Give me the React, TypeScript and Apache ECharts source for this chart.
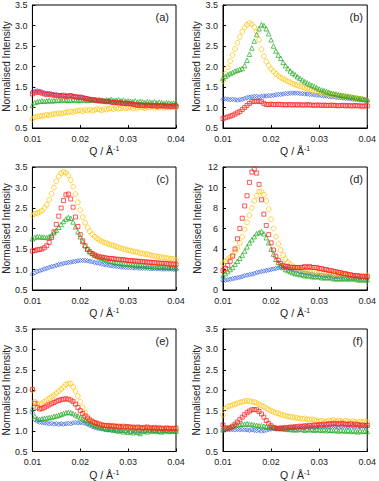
import React, { useEffect, useRef } from "react";
import * as echarts from "echarts";

// Scattering vector Q (Å^-1)
const Q = [
  0.0100, 0.0105, 0.0110, 0.0115, 0.0120, 0.0125, 0.0130, 0.0135, 0.0140, 0.0145,
  0.0150, 0.0155, 0.0160, 0.0165, 0.0170, 0.0175, 0.0180, 0.0185, 0.0190, 0.0195,
  0.0200, 0.0205, 0.0210, 0.0215, 0.0220, 0.0225, 0.0230, 0.0235, 0.0240, 0.0245,
  0.0250, 0.0255, 0.0260, 0.0265, 0.0270, 0.0275, 0.0280, 0.0285, 0.0290, 0.0295,
  0.0300, 0.0305, 0.0310, 0.0315, 0.0320, 0.0325, 0.0330, 0.0335, 0.0340, 0.0345,
  0.0350, 0.0355, 0.0360, 0.0365, 0.0370, 0.0375, 0.0380, 0.0385, 0.0390, 0.0395,
  0.0400,
];

const panelLabels = ["(a)", "(b)", "(c)", "(d)", "(e)", "(f)"];
const xTicks = [0.01, 0.02, 0.03, 0.04];

// Panel (a)
const aYellow = [
  0.72, 0.76, 0.78, 0.79, 0.80, 0.80, 0.82, 0.81, 0.83, 0.84,
  0.85, 0.86, 0.85, 0.87, 0.88, 0.89, 0.90, 0.89, 0.91, 0.92,
  0.93, 0.91, 0.94, 0.93, 0.95, 0.92, 0.94, 0.96, 0.95, 0.93,
  0.96, 0.95, 0.97, 0.98, 0.96, 0.99, 0.97, 0.98, 1.00, 0.98,
  0.99, 1.01, 0.98, 1.00, 0.99, 1.01, 1.00, 0.98, 1.01, 1.00,
  1.02, 0.99, 1.01, 1.00, 1.02, 0.99, 1.01, 1.00, 1.02, 1.01,
  1.00,
];
const aRed = [
  1.33, 1.36, 1.38, 1.37, 1.35, 1.33, 1.32, 1.33, 1.31, 1.30,
  1.30, 1.29, 1.28, 1.30, 1.27, 1.28, 1.29, 1.27, 1.26, 1.25,
  1.25, 1.24, 1.22, 1.21, 1.20, 1.19, 1.18, 1.18, 1.16, 1.16,
  1.15, 1.14, 1.15, 1.13, 1.12, 1.13, 1.11, 1.12, 1.10, 1.10,
  1.10, 1.09, 1.08, 1.07, 1.05, 1.06, 1.05, 1.04, 1.06, 1.05,
  1.04, 1.05, 1.03, 1.04, 1.05, 1.03, 1.04, 1.03, 1.02, 1.04,
  1.03,
];
const aBlue = [
  1.38, 1.40, 1.41, 1.40, 1.38, 1.36, 1.35, 1.34, 1.33, 1.32,
  1.31, 1.30, 1.30, 1.29, 1.29, 1.28, 1.30, 1.27, 1.27, 1.26,
  1.26, 1.24, 1.23, 1.22, 1.20, 1.19, 1.18, 1.17, 1.16, 1.16,
  1.15, 1.14, 1.14, 1.13, 1.12, 1.12, 1.11, 1.10, 1.10, 1.11,
  1.10, 1.09, 1.08, 1.08, 1.07, 1.08, 1.07, 1.06, 1.07, 1.06,
  1.06, 1.05, 1.07, 1.05, 1.06, 1.05, 1.06, 1.04, 1.05, 1.05,
  1.05,
];
const aGreen = [
  1.05, 1.12, 1.14, 1.15, 1.16, 1.15, 1.16, 1.17, 1.16, 1.17,
  1.17, 1.18, 1.17, 1.19, 1.18, 1.17, 1.18, 1.19, 1.18, 1.17,
  1.18, 1.19, 1.18, 1.17, 1.19, 1.18, 1.20, 1.17, 1.19, 1.18,
  1.17, 1.19, 1.18, 1.20, 1.17, 1.18, 1.19, 1.16, 1.18, 1.15,
  1.16, 1.15, 1.14, 1.16, 1.13, 1.15, 1.14, 1.12, 1.14, 1.13,
  1.12, 1.14, 1.11, 1.13, 1.12, 1.10, 1.12, 1.11, 1.10, 1.11,
  1.10,
];

// Panel (b)
const bYellow = [
  1.65, 1.82, 1.98, 2.13, 2.28, 2.43, 2.58, 2.72, 2.85, 2.95,
  3.02, 3.06, 3.03, 2.96, 2.85, 2.65, 2.42, 2.25, 2.12, 2.02,
  1.94, 1.88, 1.82, 1.77, 1.73, 1.70, 1.67, 1.64, 1.61, 1.58,
  1.56, 1.54, 1.52, 1.50, 1.48, 1.46, 1.44, 1.42, 1.40, 1.39,
  1.37, 1.36, 1.35, 1.34, 1.33, 1.32, 1.31, 1.30, 1.29, 1.28,
  1.28, 1.27, 1.26, 1.25, 1.24, 1.23, 1.22, 1.21, 1.20, 1.19,
  1.16,
];
const bRed = [
  0.73, 0.75, 0.77, 0.79, 0.81, 0.84, 0.87, 0.90, 0.95, 1.00,
  1.05, 1.10, 1.14, 1.15, 1.15, 1.15, 1.14, 1.10, 1.07, 1.07,
  1.08, 1.07, 1.07, 1.08, 1.07, 1.07, 1.06, 1.07, 1.07, 1.06,
  1.07, 1.06, 1.07, 1.06, 1.06, 1.07, 1.06, 1.06, 1.05, 1.06,
  1.06, 1.05, 1.06, 1.05, 1.05, 1.06, 1.05, 1.05, 1.04, 1.05,
  1.05, 1.04, 1.05, 1.04, 1.04, 1.05, 1.04, 1.04, 1.03, 1.04,
  1.04,
];
const bGreen = [
  1.72, 1.76, 1.80, 1.83, 1.86, 1.89, 1.91, 1.93, 1.95, 2.02,
  2.15, 2.30, 2.45, 2.62, 2.78, 2.92, 3.02, 3.00, 2.92, 2.80,
  2.65, 2.50, 2.38, 2.28, 2.20, 2.10, 2.02, 1.95, 1.89, 1.84,
  1.80, 1.75, 1.71, 1.67, 1.63, 1.60, 1.57, 1.54, 1.51, 1.48,
  1.45, 1.43, 1.41, 1.39, 1.37, 1.35, 1.34, 1.33, 1.31, 1.30,
  1.29, 1.28, 1.27, 1.26, 1.25, 1.24, 1.23, 1.22, 1.21, 1.20,
  1.19,
];
const bBlue = [
  1.20, 1.21, 1.20, 1.19, 1.20, 1.19, 1.18, 1.19, 1.20, 1.22,
  1.24, 1.25, 1.26, 1.27, 1.27, 1.26, 1.27, 1.28, 1.28, 1.29,
  1.29, 1.30, 1.31, 1.32, 1.32, 1.33, 1.34, 1.34, 1.35, 1.35,
  1.35, 1.35, 1.34, 1.34, 1.33, 1.33, 1.32, 1.32, 1.31, 1.30,
  1.30, 1.29, 1.28, 1.28, 1.27, 1.26, 1.26, 1.25, 1.24, 1.24,
  1.23, 1.22, 1.22, 1.21, 1.20, 1.20, 1.19, 1.18, 1.18, 1.17,
  1.17,
];

// Panel (c)
const cYellow = [
  2.32, 2.36, 2.38, 2.40, 2.43, 2.50, 2.58, 2.70, 2.85, 3.00,
  3.15, 3.27, 3.35, 3.38, 3.36, 3.30, 3.18, 3.02, 2.84, 2.64,
  2.45, 2.28, 2.14, 2.02, 1.93, 1.86, 1.80, 1.76, 1.72, 1.69,
  1.66, 1.64, 1.62, 1.60, 1.58, 1.56, 1.54, 1.52, 1.50, 1.49,
  1.47, 1.46, 1.44, 1.43, 1.42, 1.40, 1.39, 1.38, 1.37, 1.36,
  1.34, 1.33, 1.32, 1.31, 1.30, 1.29, 1.28, 1.27, 1.26, 1.25,
  1.23,
];
const cRed = [
  1.45, 1.46, 1.48, 1.49, 1.50, 1.53, 1.58, 1.66, 1.78, 1.92,
  2.10, 2.30, 2.50, 2.68, 2.82, 2.84, 2.72, 2.52, 2.28, 2.05,
  1.85, 1.70, 1.58, 1.49, 1.43, 1.39, 1.36, 1.33, 1.31, 1.30,
  1.29, 1.28, 1.27, 1.27, 1.26, 1.25, 1.25, 1.24, 1.24, 1.23,
  1.22, 1.22, 1.21, 1.21, 1.20, 1.20, 1.19, 1.19, 1.18, 1.18,
  1.17, 1.17, 1.16, 1.16, 1.15, 1.15, 1.14, 1.14, 1.13, 1.13,
  1.12,
];
const cGreen = [
  1.75, 1.78, 1.80, 1.80, 1.79, 1.79, 1.78, 1.80, 1.84, 1.90,
  1.96, 2.03, 2.10, 2.17, 2.23, 2.27, 2.25, 2.16, 2.04, 1.92,
  1.80, 1.68, 1.58, 1.50, 1.44, 1.39, 1.35, 1.32, 1.29, 1.27,
  1.25, 1.23, 1.21, 1.20, 1.18, 1.17, 1.16, 1.15, 1.14, 1.14,
  1.13, 1.12, 1.12, 1.11, 1.10, 1.10, 1.09, 1.09, 1.08, 1.08,
  1.07, 1.07, 1.07, 1.06, 1.06, 1.06, 1.05, 1.05, 1.05, 1.05,
  1.04,
];
const cBlue = [
  0.88, 0.92, 0.95, 0.97, 0.99, 1.01, 1.03, 1.05, 1.07, 1.08,
  1.10, 1.12, 1.13, 1.15, 1.16, 1.17, 1.18, 1.19, 1.20, 1.21,
  1.22, 1.22, 1.22, 1.21, 1.20, 1.19, 1.17, 1.16, 1.15, 1.13,
  1.12, 1.11, 1.10, 1.09, 1.08, 1.08, 1.07, 1.06, 1.06, 1.05,
  1.05, 1.05, 1.04, 1.04, 1.04, 1.03, 1.03, 1.03, 1.03, 1.02,
  1.02, 1.02, 1.02, 1.02, 1.01, 1.01, 1.01, 1.01, 1.01, 1.00,
  1.00,
];

// Panel (d)
const dRed = [
  1.9, 2.1, 2.4, 2.8, 3.3, 4.0, 5.0, 6.0, 7.0, 8.2,
  9.2, 10.5, 11.5, 11.8, 11.4, 10.3, 8.8, 7.4, 6.3, 5.4,
  4.6, 3.9, 3.3, 2.9, 2.6, 2.4, 2.3, 2.3, 2.2, 2.2,
  2.2, 2.2, 2.2, 2.2, 2.3, 2.2, 2.3, 2.2, 2.2, 2.2,
  2.1, 2.1, 2.0, 2.0, 1.9, 1.9, 1.8, 1.8, 1.7, 1.7,
  1.6, 1.6, 1.5, 1.5, 1.4, 1.4, 1.4, 1.3, 1.3, 1.3,
  1.3,
];
const dYellow = [
  2.6, 2.8, 3.0, 3.2, 3.4, 3.7, 4.1, 4.6, 5.2, 5.9,
  6.6, 7.3, 8.0, 8.7, 9.2, 9.6, 9.6, 9.3, 8.7, 7.9,
  6.9, 6.0, 5.2, 4.5, 3.9, 3.4, 3.0, 2.7, 2.5, 2.3,
  2.2, 2.1, 2.0, 2.0, 1.9, 1.9, 1.8, 1.8, 1.8, 1.7,
  1.7, 1.7, 1.7, 1.6, 1.6, 1.6, 1.6, 1.5, 1.5, 1.5,
  1.5, 1.5, 1.5, 1.4, 1.4, 1.4, 1.4, 1.4, 1.4, 1.4,
  1.4,
];
const dGreen = [
  1.4, 1.6, 1.8, 2.0, 2.2, 2.5, 2.8, 3.1, 3.4, 3.8,
  4.2, 4.6, 4.9, 5.2, 5.5, 5.6, 5.7, 5.5, 5.1, 4.6,
  4.0, 3.5, 3.0, 2.7, 2.4, 2.2, 2.0, 1.9, 1.8, 1.7,
  1.6, 1.6, 1.5, 1.5, 1.4, 1.4, 1.4, 1.3, 1.3, 1.3,
  1.3, 1.2, 1.2, 1.2, 1.2, 1.2, 1.1, 1.1, 1.1, 1.1,
  1.1, 1.1, 1.1, 1.1, 1.1, 1.1, 1.0, 1.0, 1.0, 1.0,
  1.0,
];
const dBlue = [
  0.9, 0.95, 1.0, 1.05, 1.1, 1.15, 1.2, 1.25, 1.3, 1.4,
  1.45, 1.5, 1.55, 1.6, 1.7, 1.75, 1.8, 1.85, 1.9, 1.95,
  2.0, 2.05, 2.1, 2.15, 2.2, 2.2, 2.15, 2.1, 2.05, 2.0,
  1.95, 1.9, 1.8, 1.75, 1.7, 1.65, 1.6, 1.55, 1.5, 1.5,
  1.45, 1.45, 1.4, 1.4, 1.35, 1.35, 1.3, 1.3, 1.3, 1.25,
  1.25, 1.25, 1.2, 1.2, 1.2, 1.2, 1.15, 1.15, 1.15, 1.15,
  1.15,
];

// Panel (e)
const eYellow = [
  2.00, 1.72, 1.66, 1.65, 1.68, 1.72, 1.76, 1.80, 1.84, 1.88,
  1.93, 1.98, 2.03, 2.08, 2.14, 2.17, 2.16, 2.08, 1.98, 1.86,
  1.72, 1.58, 1.45, 1.35, 1.28, 1.22, 1.19, 1.17, 1.15, 1.14,
  1.13, 1.12, 1.12, 1.11, 1.10, 1.11, 1.09, 1.10, 1.08, 1.09,
  1.08, 1.07, 1.08, 1.06, 1.07, 1.05, 1.07, 1.06, 1.05, 1.06,
  1.04, 1.05, 1.06, 1.04, 1.05, 1.03, 1.04, 1.05, 1.03, 1.04,
  1.03,
];
const eRed = [
  2.02, 1.68, 1.58, 1.54, 1.55, 1.58, 1.61, 1.64, 1.67, 1.70,
  1.73, 1.75, 1.77, 1.78, 1.79, 1.78, 1.76, 1.72, 1.66, 1.58,
  1.50, 1.43, 1.37, 1.32, 1.27, 1.24, 1.21, 1.19, 1.17, 1.15,
  1.14, 1.13, 1.14, 1.12, 1.13, 1.11, 1.12, 1.10, 1.12, 1.10,
  1.11, 1.09, 1.10, 1.08, 1.10, 1.09, 1.07, 1.09, 1.10, 1.08,
  1.07, 1.09, 1.06, 1.08, 1.07, 1.06, 1.08, 1.06, 1.07, 1.06,
  1.07,
];
const eGreen = [
  1.55, 1.36, 1.30, 1.29, 1.30, 1.31, 1.32, 1.33, 1.34, 1.36,
  1.37, 1.39, 1.41, 1.43, 1.45, 1.46, 1.45, 1.43, 1.40, 1.37,
  1.33, 1.30, 1.27, 1.23, 1.20, 1.17, 1.14, 1.12, 1.10, 1.08,
  1.07, 1.05, 1.04, 1.06, 1.02, 1.03, 1.00, 1.02, 0.98, 1.01,
  0.97, 0.99, 0.96, 1.00, 0.97, 0.94, 0.99, 1.01, 0.98, 1.03,
  1.00, 1.02, 0.99, 1.01, 0.98, 1.00, 1.02, 0.99, 1.01, 1.00,
  1.00,
];
const eBlue = [
  1.45, 1.28, 1.24, 1.22, 1.21, 1.20, 1.19, 1.18, 1.19, 1.17,
  1.18, 1.17, 1.18, 1.17, 1.18, 1.19, 1.18, 1.20, 1.21, 1.20,
  1.21, 1.20, 1.19, 1.17, 1.14, 1.11, 1.09, 1.07, 1.06, 1.05,
  1.04, 1.03, 1.03, 1.02, 1.03, 1.02, 1.01, 1.02, 1.01, 1.01,
  1.02, 1.00, 1.01, 1.01, 1.00, 1.01, 1.00, 1.00, 1.01, 1.00,
  1.00, 1.01, 1.00, 0.99, 1.00, 1.01, 1.00, 0.99, 1.00, 1.00,
  1.00,
];

// Panel (f)
const fYellow = [
  1.40, 1.55, 1.60, 1.62, 1.64, 1.66, 1.68, 1.70, 1.72, 1.73,
  1.74, 1.73, 1.72, 1.71, 1.69, 1.66, 1.63, 1.60, 1.56, 1.53,
  1.50, 1.47, 1.45, 1.43, 1.41, 1.39, 1.38, 1.36, 1.35, 1.34,
  1.33, 1.32, 1.31, 1.30, 1.31, 1.29, 1.28, 1.29, 1.27, 1.26,
  1.24, 1.25, 1.23, 1.24, 1.26, 1.25, 1.27, 1.24, 1.26, 1.25,
  1.23, 1.25, 1.24, 1.22, 1.24, 1.23, 1.21, 1.23, 1.22, 1.24,
  1.22,
];
const fRed = [
  1.15, 1.08, 1.06, 1.08, 1.12, 1.17, 1.22, 1.28, 1.34, 1.40,
  1.45, 1.49, 1.52, 1.53, 1.52, 1.48, 1.42, 1.34, 1.26, 1.19,
  1.13, 1.09, 1.07, 1.06, 1.08, 1.07, 1.09, 1.08, 1.10, 1.09,
  1.11, 1.10, 1.12, 1.11, 1.13, 1.12, 1.14, 1.13, 1.15, 1.14,
  1.16, 1.15, 1.17, 1.16, 1.18, 1.17, 1.19, 1.18, 1.17, 1.19,
  1.18, 1.17, 1.16, 1.18, 1.15, 1.17, 1.16, 1.14, 1.15, 1.13,
  1.14,
];
const fGreen = [
  1.03, 1.06, 1.08, 1.10, 1.12, 1.14, 1.15, 1.16, 1.17, 1.17,
  1.18, 1.17, 1.16, 1.15, 1.14, 1.13, 1.13, 1.12, 1.11, 1.10,
  1.10, 1.09, 1.08, 1.07, 1.06, 1.06, 1.05, 1.04, 1.05, 1.03,
  1.04, 1.03, 1.05, 1.04, 1.02, 1.05, 1.03, 1.04, 1.02, 1.04,
  1.03, 1.02, 1.04, 1.01, 1.03, 1.02, 1.01, 1.03, 1.00, 1.02,
  1.01, 1.00, 1.02, 0.99, 1.01, 1.00, 0.98, 1.01, 0.99, 1.00,
  0.99,
];
const fBlue = [
  1.04, 1.03, 1.04, 1.03, 1.04, 1.03, 1.04, 1.03, 1.04, 1.03,
  1.03, 1.02, 1.03, 1.02, 1.01, 1.02, 1.00, 1.01, 1.02, 1.04,
  1.05, 1.06, 1.05, 1.06, 1.07, 1.06, 1.07, 1.06, 1.08, 1.07,
  1.08, 1.07, 1.09, 1.08, 1.09, 1.10, 1.09, 1.10, 1.09, 1.10,
  1.10, 1.11, 1.10, 1.11, 1.10, 1.11, 1.12, 1.11, 1.10, 1.11,
  1.12, 1.11, 1.10, 1.11, 1.12, 1.11, 1.10, 1.11, 1.12, 1.11,
  1.11,
];

const panels = [
  { blue: aBlue, yellow: aYellow, green: aGreen, red: aRed, min: 0.5, max: 3.5, step: 0.5 },
  { blue: bBlue, yellow: bYellow, green: bGreen, red: bRed, min: 0.5, max: 3.5, step: 0.5 },
  { blue: cBlue, yellow: cYellow, green: cGreen, red: cRed, min: 0.5, max: 3.5, step: 0.5 },
  { blue: dBlue, yellow: dYellow, green: dGreen, red: dRed, min: 0, max: 12, step: 2 },
  { blue: eBlue, yellow: eYellow, green: eGreen, red: eRed, min: 0.5, max: 3.5, step: 0.5 },
  { blue: fBlue, yellow: fYellow, green: fGreen, red: fRed, min: 0.5, max: 3.5, step: 0.5 },
];

const FONT = "'Liberation Sans', Arial, sans-serif";
const YELLOW = "#FFC000";
const RED = "#FF1A1A";
const GREEN = "#1FA81F";
const BLUE = "#2E5BEA";

const gridBoxes = [
  { left: 32, top: 5, width: 144, height: 123 },
  { left: 223, top: 5, width: 147, height: 123 },
  { left: 32, top: 167, width: 144, height: 123 },
  { left: 223, top: 167, width: 147, height: 123 },
  { left: 32, top: 329, width: 144, height: 123 },
  { left: 223, top: 329, width: 147, height: 123 },
];

export default function App() {
  const ref = useRef<HTMLDivElement>(null);
  useEffect(() => {
    if (!ref.current) return;
    const chart = echarts.init(ref.current, undefined, { renderer: "svg" });
    const grids: any[] = [];
    const xAxes: any[] = [];
    const yAxes: any[] = [];
    const series: any[] = [];
    const graphics: any[] = [];
    panels.forEach((p, k) => {
      const g = gridBoxes[k];
      grids.push({
        left: g.left, top: g.top, width: g.width, height: g.height,
        show: true, borderColor: "#000", borderWidth: 1, backgroundColor: "transparent",
      });
      xAxes.push({
        type: "value", gridIndex: k, min: xTicks[0], max: xTicks[xTicks.length - 1], interval: 0.01,
        name: "Q / Å{sup|-1}", nameLocation: "middle", nameGap: 17,
        nameTextStyle: {
          fontFamily: FONT, fontSize: 10.5, color: "#222",
          rich: { sup: { fontFamily: FONT, fontSize: 7, color: "#222", verticalAlign: "top", padding: [0, 0, 5, 0] } },
        },
        axisLine: { show: true, lineStyle: { color: "#000", width: 1 } },
        axisTick: { show: true, inside: true, length: 3, lineStyle: { color: "#000" } },
        axisLabel: { fontFamily: FONT, fontSize: 9, color: "#222", margin: 6, formatter: (v: number) => v.toFixed(2) },
        splitLine: { show: false },
      });
      yAxes.push({
        type: "value", gridIndex: k, min: p.min, max: p.max, interval: p.step,
        name: "Normalised Intensity", nameLocation: "middle", nameGap: 21,
        nameTextStyle: { fontFamily: FONT, fontSize: 10, color: "#222" },
        axisLine: { show: true, lineStyle: { color: "#000", width: 1 } },
        axisTick: { show: true, inside: true, length: 3, lineStyle: { color: "#000" } },
        axisLabel: {
          fontFamily: FONT, fontSize: 9, color: "#222", margin: 5,
          formatter: (v: number) => (p.step < 1 ? v.toFixed(1) : String(Math.round(v))),
        },
        splitLine: { show: false },
      });
      const mk = (ys: number[], color: string, symbol: string, size: number) => ({
        type: "scatter", xAxisIndex: k, yAxisIndex: k, symbol, symbolSize: size,
        data: Q.map((q, i) => [q, ys[i]]),
        itemStyle: { color: "rgba(0,0,0,0)", borderColor: color, borderWidth: 0.9 },
        silent: true,
      });
      series.push(mk(p.blue, BLUE, "diamond", 4.5));
      series.push(mk(p.yellow, YELLOW, "circle", 4.8));
      series.push(mk(p.green, GREEN, "triangle", 4.5));
      series.push(mk(p.red, RED, "rect", 4));
      graphics.push({
        type: "text", right: 379 - (g.left + g.width) + 7, top: g.top + 6,
        style: { text: panelLabels[k], fontFamily: FONT, fontSize: 11, fill: "#222" },
      });
    });
    chart.setOption({
      animation: false,
      backgroundColor: "#fff",
      grid: grids,
      xAxis: xAxes,
      yAxis: yAxes,
      series,
      graphic: graphics,
    });
    return () => chart.dispose();
  }, []);
  return <div ref={ref} style={{ position: "fixed", left: 0, top: 0, width: 379, height: 481 }} />;
}
